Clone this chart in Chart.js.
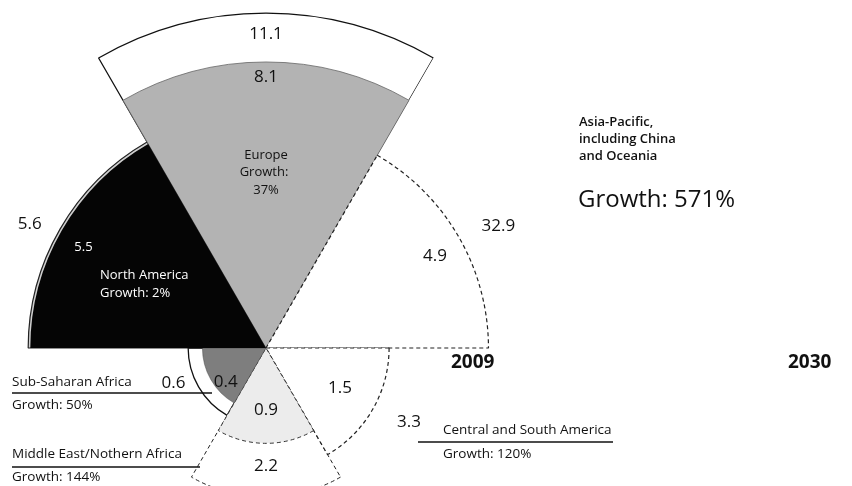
<!DOCTYPE html>
<html>
<head>
<meta charset="utf-8">
<title>Regions 2009 and 2030</title>
<script src="https://cdn.jsdelivr.net/npm/chart.js@4.4.1/dist/chart.umd.min.js"></script>
<style>
    html, body { margin: 0; padding: 0; background: #fff; }
    #chart-wrap { width: 852px; height: 486px; }
</style>
</head>
<body>
<div id="chart-wrap"><canvas id="region-chart" width="852" height="486"></canvas></div>
<script>
// categories, clockwise from the top
const regions = ['Europe', 'Asia-Pacific, including China and Oceania', 'Central and South America',
    'Middle East/Nothern Africa', 'Sub-Saharan Africa', 'North America'];
const years = ['2009', '2030'];
const values2009 = [8.1, 4.9, 1.5, 0.9, 0.4, 5.5];
const values2030 = [11.1, 32.9, 3.3, 2.2, 0.6, 5.6];

// wedge area follows the value, so the radius follows its square root
const PX_PER_UNIT = 100.5;
const CENTER_X = 266;
const CENTER_Y = 348;
const HALF = 486 - CENTER_Y;

function growth(i) {
    return Math.round((values2030[i] / values2009[i] - 1) * 100) + '%';
}

// where each value sits: angle (deg, counter-clockwise from right), which year's wedge it hangs on, offset from its rim
const places2009 = [
    {angle: 90, ref: 0, dr: -15},
    {angle: 28.6, ref: 0, dr: -30},
    {angle: -28.4, ref: 0, dr: -39},
    {angle: -90, ref: 0, dr: -33},
    {angle: -140, ref: 0, dr: -11},
    {angle: 151, ref: 0, dr: -27, color: '#fff', size: 13}
];
const places2030 = [
    {angle: 90, ref: 1, dr: -21},
    {angle: 27.7, ref: 0, dr: 40},
    {angle: -27.4, ref: 0, dr: 38},
    {angle: -90, ref: 0, dr: 23},
    {angle: -159.4, ref: 1, dr: 21},
    {angle: 152.3, ref: 1, dr: 29}
];

const FONT = '"Open Sans", "Noto Sans", sans-serif';

function text(ctx, str, x, y, size, opts = {}) {
    ctx.font = (opts.weight || 'normal') + ' ' + size + 'px ' + FONT;
    ctx.fillStyle = opts.color || '#111';
    ctx.textAlign = opts.align || 'left';
    ctx.fillText(str, x, y);
}

function rule(ctx, x1, x2, y) {
    ctx.beginPath();
    ctx.moveTo(x1, y);
    ctx.lineTo(x2, y);
    ctx.lineWidth = 1.5;
    ctx.strokeStyle = '#111';
    ctx.stroke();
}

const labelPlugin = {
    id: 'regionLabels',
    afterDatasetsDraw(chart) {
        const ctx = chart.ctx;
        const arcs = [chart.getDatasetMeta(0).data, chart.getDatasetMeta(1).data];
        ctx.save();
        ctx.textBaseline = 'middle';

        // values
        [values2009, values2030].forEach((vals, d) => {
            const places = d === 0 ? places2009 : places2030;
            vals.forEach((v, i) => {
                const p = places[i];
                const arc = arcs[p.ref][i];
                const r = arc.outerRadius + p.dr;
                const a = p.angle * Math.PI / 180;
                text(ctx, v.toFixed(1), arc.x + r * Math.cos(a), arc.y - r * Math.sin(a), p.size || 17,
                    {align: 'center', color: p.color});
            });
        });

        // year marks at the rim of the Asia-Pacific wedges
        const asia09 = arcs[0][1];
        const asia30 = arcs[1][1];
        text(ctx, years[0], asia09.x + asia09.outerRadius + 6, asia09.y + 15, 19, {align: 'right', weight: 'bold'});
        text(ctx, years[1], asia30.x + asia30.outerRadius - 11, asia30.y + 15, 19, {align: 'right', weight: 'bold'});

        // Europe
        text(ctx, 'Europe', 266, 155, 13, {align: 'center'});
        text(ctx, 'Growth:', 264, 172, 13, {align: 'center'});
        text(ctx, growth(0), 266, 190, 13, {align: 'center'});

        // North America
        text(ctx, regions[5], 100, 275, 13, {color: '#fff'});
        text(ctx, 'Growth: ' + growth(5), 100, 293, 13, {color: '#fff'});

        // Asia-Pacific
        text(ctx, 'Asia-Pacific,', 579, 122, 13, {weight: '600'});
        text(ctx, 'including China', 579, 139, 13, {weight: '600'});
        text(ctx, 'and Oceania', 579, 156, 13, {weight: '600'});
        text(ctx, 'Growth: ' + growth(1), 578, 200, 24);

        // Central and South America
        text(ctx, regions[2], 443, 430, 13.5);
        rule(ctx, 418, 613, 442);
        text(ctx, 'Growth: ' + growth(2), 443, 454, 13.5);

        // Sub-Saharan Africa
        text(ctx, regions[4], 12, 382, 13.5);
        rule(ctx, 12, 212, 393);
        text(ctx, 'Growth: ' + growth(4), 12, 405, 13.5);

        // Middle East/Nothern Africa
        text(ctx, regions[3], 12, 454, 13.5);
        rule(ctx, 12, 200, 467);
        text(ctx, 'Growth: ' + growth(3), 12, 477, 13.5);

        ctx.restore();
    }
};

function drawChart() {
    const el = document.getElementById('region-chart');
    new Chart(el, {
        type: 'polarArea',
        data: {
            labels: regions,
            datasets: [{
                label: years[0],
                data: values2009.map(Math.sqrt),
                backgroundColor: ['#b3b3b3', '#ffffff', '#ffffff', '#ececec', '#7e7e7e', '#050505'],
                borderColor: ['#666', '#222', '#222', '#333', '#444', '#050505'],
                borderWidth: [0.8, 1.2, 1.2, 1, 0.5, 0],
                borderDash: ctx => [1, 2, 3].includes(ctx.dataIndex) ? [4, 3] : [],
                clip: false
            }, {
                label: years[1],
                data: values2030.map(Math.sqrt),
                backgroundColor: ['#ffffff', '#ffffff', '#ffffff', '#ffffff', '#ffffff', '#cfcfcf'],
                borderColor: ['#111', 'rgba(0,0,0,0)', 'rgba(0,0,0,0)', '#222', '#111', '#222'],
                borderWidth: [1.3, 0, 0, 1, 1.3, 1.2],
                borderDash: ctx => ctx.dataIndex === 3 ? [4, 3] : [],
                clip: false
            }]
        },
        options: {
            responsive: false,
            animation: false,
            layout: {
                padding: {left: 0, right: 852 - 2 * CENTER_X, top: CENTER_Y - HALF, bottom: 0}
            },
            scales: {
                r: {
                    display: false,
                    startAngle: -30,
                    min: 0,
                    max: HALF / PX_PER_UNIT
                }
            },
            plugins: {
                legend: {display: false},
                tooltip: {enabled: false}
            }
        },
        plugins: [labelPlugin]
    });
}

document.fonts.load('16px "Open Sans"').then(drawChart, drawChart);
</script>
</body>
</html>
